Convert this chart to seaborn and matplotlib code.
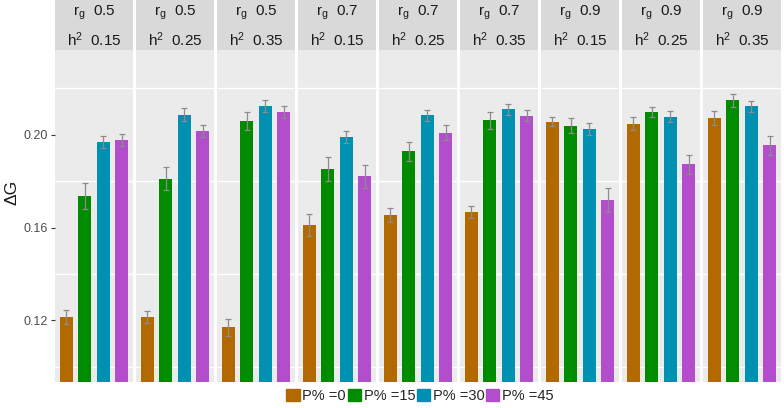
import pandas as pd
import matplotlib
matplotlib.use("Agg")
import matplotlib.pyplot as plt
import matplotlib.patches as mpatches
import seaborn as sns

# facet labels
rg_labels = ["0.5", "0.5", "0.5", "0.7", "0.7", "0.7", "0.9", "0.9", "0.9"]
h2_labels = ["0.15", "0.25", "0.35", "0.15", "0.25", "0.35", "0.15", "0.25", "0.35"]
p_levels = ["P% =0", "P% =15", "P% =30", "P% =45"]

# mean delta G per facet, one list per P% level
p0 = [0.1215, 0.1213, 0.1171, 0.1612, 0.1654, 0.1666, 0.2057, 0.2048, 0.2071]
p15 = [0.1736, 0.1811, 0.2059, 0.1852, 0.1928, 0.2062, 0.2039, 0.2098, 0.2148]
p30 = [0.1968, 0.2087, 0.2122, 0.1992, 0.2084, 0.2109, 0.2024, 0.2078, 0.2122]
p45 = [0.1976, 0.2016, 0.2098, 0.1821, 0.2009, 0.2082, 0.1719, 0.1872, 0.1954]

# half-width of error bars
e0 = [0.0029, 0.0026, 0.0037, 0.0047, 0.0030, 0.0026, 0.0018, 0.0027, 0.0030]
e15 = [0.0057, 0.0050, 0.0039, 0.0053, 0.0041, 0.0036, 0.0033, 0.0023, 0.0029]
e30 = [0.0026, 0.0029, 0.0026, 0.0026, 0.0023, 0.0022, 0.0026, 0.0023, 0.0025]
e45 = [0.0026, 0.0026, 0.0027, 0.0049, 0.0033, 0.0024, 0.0051, 0.0041, 0.0041]

colors = ["#B26A00", "#008B00", "#0090B2", "#B24DCB"]

sns.set_theme(style="white")
plt.rcParams["font.family"] = ["Liberation Sans", "DejaVu Sans"]
plt.rcParams["mathtext.fontset"] = "custom"
plt.rcParams["mathtext.rm"] = "Liberation Sans"
plt.rcParams["mathtext.it"] = "Liberation Sans"

fig = plt.figure(figsize=(7.84, 4.08), dpi=100)
W, H = 784, 408
left0, pw, step = 55, 78, 81
ptop, pbot = 50, 382

means = [p0, p15, p30, p45]
errs = [e0, e15, e30, e45]

for i in range(9):
    df = pd.DataFrame({
        "P": p_levels,
        "dG": [m[i] for m in means],
        "err": [e[i] for e in errs],
    })
    ax = fig.add_axes([(left0 + i * step) / W, (H - pbot) / H, pw / W, (pbot - ptop) / H])
    ax.set_facecolor("#EBEBEB")
    for g in [0.10, 0.14, 0.18, 0.22]:
        ax.axhline(g, color="white", lw=1.0, zorder=0)
    sns.barplot(data=df, x="P", y="dG", hue="P", palette=colors, width=0.7,
                errorbar=None, legend=False, ax=ax, saturation=1, linewidth=0, zorder=2)
    ax.errorbar(range(4), df["dG"], yerr=df["err"], fmt="none",
                ecolor="#8C8C8C", elinewidth=0.9, capsize=2.5, capthick=0.9, zorder=3)
    ax.set_xlim(-0.6, 3.6)
    ax.set_ylim(0.0935, 0.2365)
    ax.set_xlabel("")
    ax.set_ylabel("")
    ax.set_xticks([])
    for s in ax.spines.values():
        s.set_visible(False)
    if i == 0:
        ax.set_yticks([0.12, 0.16, 0.20])
        ax.set_yticklabels(["0.12", "0.16", "0.20"])
        ax.tick_params(axis="y", left=True, length=3, width=0.8, color="#333333",
                       labelsize=9, labelcolor="#4D4D4D", pad=2)
    else:
        ax.set_yticks([])

    # facet strip
    sax = fig.add_axes([(left0 + i * step) / W, (H - ptop) / H, pw / W, ptop / H])
    sax.set_facecolor("#D9D9D9")
    sax.set_xticks([])
    sax.set_yticks([])
    for s in sax.spines.values():
        s.set_visible(False)
    sax.text(0.5, 0.74, r"r$_{\mathrm{g}}$  " + rg_labels[i], ha="center", va="center",
             fontsize=11, color="#1A1A1A", transform=sax.transAxes)
    sax.text(0.5, 0.2, r"h$^{2}$  " + h2_labels[i], ha="center", va="center",
             fontsize=11, color="#1A1A1A", transform=sax.transAxes)

fig.text(12 / W, 1 - 192 / H, "ΔG", rotation=90, ha="center", va="center",
         fontsize=12.5, color="#1A1A1A")

handles = [mpatches.Patch(color=c, label=l) for c, l in zip(colors, p_levels)]
fig.legend(handles=handles, loc="center", bbox_to_anchor=(420 / W, 1 - 396 / H),
           ncol=4, frameon=False, fontsize=10.5, handlelength=0.9, handleheight=0.9,
           handletextpad=0.2, columnspacing=0.1, borderaxespad=0)

fig.savefig("out.png", dpi=100)
